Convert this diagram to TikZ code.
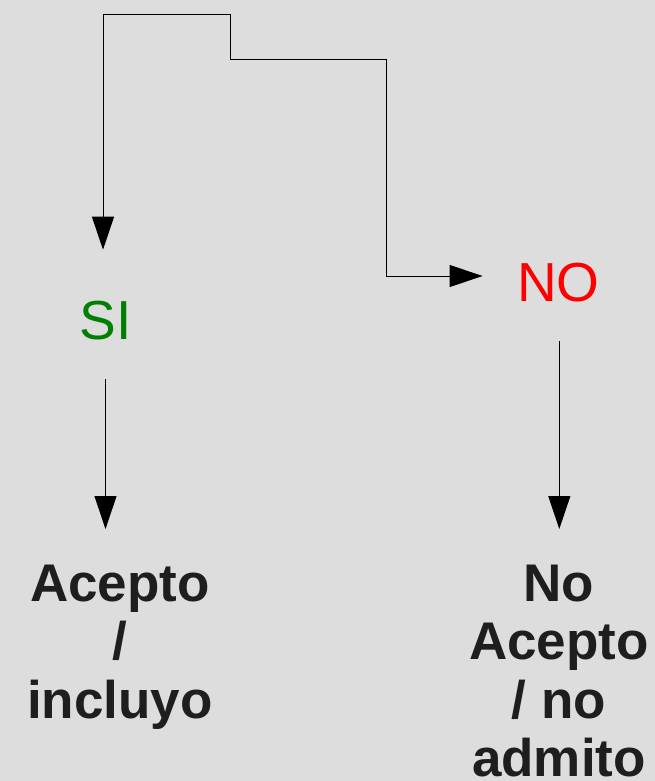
\documentclass[tikz,border=0pt]{standalone}
\usepackage{fontspec}
\setmainfont{Liberation Sans}
\usetikzlibrary{arrows.meta}
\definecolor{bg}{RGB}{221,221,221}
\definecolor{txt}{RGB}{30,30,30}
\definecolor{sigreen}{RGB}{0,128,0}
\definecolor{nored}{RGB}{255,0,0}
\begin{document}
\begin{tikzpicture}[x=1pt,y=-1pt,
  tipshape/.tip={Triangle[length=33pt,width=22pt]},
  conn/.style={draw=black, line width=1pt},
  lbl/.style={inner sep=0pt, font=\fontsize{55}{60}\selectfont},
  res/.style={inner sep=0pt, align=center, text=txt, font=\fontsize{53}{58.6}\selectfont\bfseries}]
\fill[bg] (0,0) rectangle (655,781);
\useasboundingbox (0,0) rectangle (655,781);
\node[lbl, text=sigreen, anchor=base] (si) at (105.5,339) {SI};
\node[lbl, text=nored, anchor=base] (no) at (558.5,301) {NO};
\node[res, anchor=north] (acc) at (120,564.5) {Acepto\\/\\incluyo};
\node[res, anchor=north] (noacc) at (559,564.5) {No\\Acepto\\/ no\\admito};
\coordinate (b1) at (103,15);
\coordinate (b2) at (230,15);
\coordinate (b3) at (230,60);
\coordinate (b4) at (386,60);
\coordinate (b5) at (386,276);
\draw[conn, tipshape-tipshape, shorten <=50.7pt, shorten >=34.5pt]
  (b1 |- si.north) -- (b1) -- (b2) -- (b3) -- (b4) -- (b5) -- (b5 -| no.west);
\draw[conn, -tipshape, shorten <=39.3pt, shorten >=35.5pt] (si.south) -- (si.south |- acc.north);
\draw[conn, -tipshape, shorten <=39.7pt, shorten >=35.5pt] ([xshift=0.8pt]no.south) -- ([xshift=0.8pt]no.south |- noacc.north);
\end{tikzpicture}
\end{document}
